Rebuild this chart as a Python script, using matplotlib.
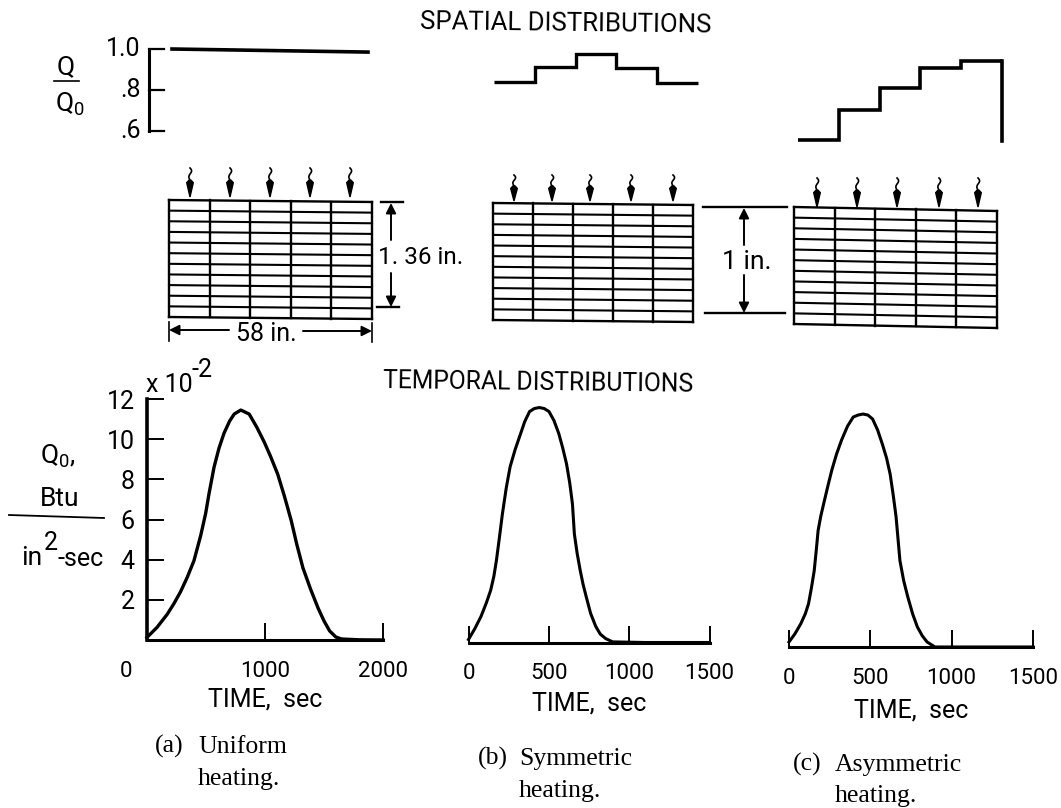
import numpy as np
import matplotlib
matplotlib.use("Agg")
import matplotlib.pyplot as plt
from matplotlib.patches import Polygon
from matplotlib.transforms import ScaledTranslation

W, H = 1061, 808
SERIF = ['Liberation Serif', 'DejaVu Serif']
plt.rcParams['font.family'] = ['Roboto', 'DejaVu Sans']
plt.rcParams['mathtext.default'] = 'regular'

# spatial distributions, Q/Q0 per column
q_ticks = [0.6, 0.8, 1.0]
q_tick_labels = ['.6', '.8', '1.0']
q_uniform = [1.0, 0.985]
q_symmetric = [0.84, 0.912, 0.976, 0.907, 0.834]
q_asymmetric = [0.556, 0.702, 0.81, 0.907, 0.941]
q_asym_end = 0.55

# temporal distributions, Q0 (x 10^-2) against time in sec
time_a = [0, 85, 170, 227, 284, 341, 398, 455, 497, 526, 568, 610, 653, 700, 739, 795,
          866, 930, 994, 1050, 1108, 1165, 1222, 1270, 1321, 1385, 1449, 1500, 1548, 1600, 1648, 1800, 2000]
heat_a = [0.13, 0.63, 1.27, 1.8, 2.4, 3.12, 3.95, 5.2, 6.3, 7.3, 8.6, 9.55, 10.3, 10.9, 11.25, 11.45,
          11.25, 10.6, 9.85, 9.1, 8.25, 7.15, 5.95, 4.75, 3.6, 2.55, 1.6, 0.95, 0.45, 0.15, 0.05, 0.01, 0]
time_b = [0, 40, 78, 110, 138, 158, 174, 192, 211, 235, 259, 290, 320, 350, 380, 410, 441, 471, 501,
          532, 562, 586, 610, 630, 647, 659, 676, 695, 713, 732, 760, 792, 820, 853, 897, 1100, 1500]
heat_b = [0.15, 0.7, 1.3, 1.95, 2.6, 3.3, 4.1, 5.2, 6.4, 7.7, 8.75, 9.6, 10.3, 11.0, 11.5, 11.65, 11.7, 11.65, 11.5,
          11.05, 10.4, 9.7, 8.9, 7.95, 6.9, 5.4, 4.45, 3.6, 2.9, 2.3, 1.45, 0.8, 0.42, 0.2, 0.03, 0, 0]
time_c = [0, 36, 72, 100, 120, 138, 155, 168, 179, 195, 215, 240, 263, 292, 323, 360, 395, 425, 455, 485, 514,
          545, 574, 600, 622, 640, 658, 670, 682, 705, 730, 760, 789, 820, 849, 897, 1100, 1500]
heat_c = [0.25, 0.65, 1.15, 1.65, 2.15, 2.95, 3.8, 4.85, 5.8, 6.5, 7.2, 8.05, 8.8, 9.6, 10.3, 11.0, 11.45, 11.55, 11.6, 11.55, 11.35,
          10.8, 10.1, 9.4, 8.6, 7.6, 6.5, 5.4, 4.3, 3.3, 2.5, 1.65, 1.0, 0.55, 0.25, 0, 0, 0]

y_ticks = [2, 4, 6, 8, 10, 12]
x_ticks_a = [1000, 2000]
x_labels_a = ['0', '1000', '2000']
x_ticks_bc = [0, 500, 1000, 1500]
x_labels_bc = ['0', '500', '1000', '1500']


def px_axes(fig, x0, x1, top, bottom):
    ax = fig.add_axes([x0 / W, 1 - bottom / H, (x1 - x0) / W, (bottom - top) / H])
    ax.patch.set_alpha(0)
    return ax


def wiggle_arrow(ax, x, y0, y1):
    # little wavy tail and long solid head, like a heat flux arrow
    head = y0 + (y1 - y0) * 0.42
    t = np.linspace(0, 1, 20)
    ax.plot(x + 1.8 * np.sin(t * 2 * np.pi) * (1 - 0.5 * t), y0 + (head - y0) * t, color='k', lw=1.2)
    ax.add_patch(Polygon([(x - 1, head), (x + 1, head), (x + 3.3, head + 2.5), (x, y1), (x - 3.3, head + 2.5)],
                         closed=True, color='k'))


def layer_grid(ax, left, right, top_l, top_r, bot_l, bot_r, n_col=5, n_lay=11):
    for i in range(n_col + 1):
        f = i / n_col
        x = left + (right - left) * f
        y0 = top_l + (top_r - top_l) * f
        y1 = bot_l + (bot_r - bot_l) * f
        ax.plot([x, x], [y0, y1], color='k', lw=1.7, solid_capstyle='projecting')
    for j in range(n_lay + 1):
        f = j / n_lay
        ya = top_l + (bot_l - top_l) * f
        yb = top_r + (bot_r - top_r) * f
        ax.plot([left, right], [ya, yb], color='k', lw=1.7 if j in (0, n_lay) else 1.5)


def dim_arrow(ax, x0, y0, x1, y1):
    ax.annotate('', xy=(x1, y1), xytext=(x0, y0),
                arrowprops=dict(arrowstyle='-|>', color='k', lw=1.4, mutation_scale=15, shrinkA=0, shrinkB=0))


def spatial_axes(fig, x0, x1, xlim):
    ax = px_axes(fig, x0, x1, 49, 131)
    ax.set_xlim(*xlim)
    ax.set_ylim(0.6, 1.0)
    ax.axis('off')
    return ax


def temporal_axes(fig, x0, x1, bottom, xmax, xticks):
    ax = px_axes(fig, x0, x1, bottom - 241, bottom)
    ax.set_xlim(0, xmax)
    ax.set_ylim(0, 12)
    ax.spines['top'].set_visible(False)
    ax.spines['right'].set_visible(False)
    ax.spines['bottom'].set_linewidth(2.2)
    ax.set_xticks(xticks)
    ax.tick_params(axis='x', direction='in', length=12, width=1.4, labelsize=16, pad=15)
    return ax


fig = plt.figure(figsize=(W / 100, H / 100), dpi=100, facecolor='white')
page = fig.add_axes([0, 0, 1, 1])
page.set_xlim(0, W)
page.set_ylim(H, 0)
page.axis('off')

# titles
page.text(566, 24, 'SPATIAL DISTRIBUTIONS', fontsize=18.5, ha='center', va='center',
          rotation=-0.7, rotation_mode='anchor')
page.text(538, 383, 'TEMPORAL DISTRIBUTIONS', fontsize=17.8, ha='center', va='center',
          rotation=-0.7, rotation_mode='anchor')

# spatial curves
ax_sa = spatial_axes(fig, 149, 368, (-0.587, 5))
ax_sa.plot([0, 5], q_uniform, color='k', lw=2.6, clip_on=False)
ax_sa.plot([-0.587, -0.587], [0.6, 1.0], color='k', lw=2.2, clip_on=False, solid_capstyle='projecting')
for v, lab in zip(q_ticks, q_tick_labels):
    ax_sa.plot([-0.587, -0.2], [v, v], color='k', lw=1.6, clip_on=False)
    ax_sa.annotate(lab, xy=(-0.587, v), xytext=(-6, 0), textcoords='offset points',
                   fontsize=18, ha='right', va='center')

col_edges = np.arange(6)
ax_sb = spatial_axes(fig, 494, 698, (0, 5))
ax_sb.stairs(q_symmetric, col_edges, color='k', lw=2.4, baseline=None, clip_on=False)

ax_sc = spatial_axes(fig, 798, 1002, (0, 5))
ax_sc.stairs(q_asymmetric, col_edges, color='k', lw=2.6, baseline=None, clip_on=False)
ax_sc.plot([5, 5], [q_asymmetric[-1], q_asym_end], color='k', lw=2.6, clip_on=False)

# Q/Q0 label
page.text(66, 67, 'Q', fontsize=19, ha='center', va='center')
page.plot([54, 79], [81, 81], color='k', lw=1.2)
page.text(70, 104, 'Q$_{0}$', fontsize=19, ha='center', va='center')

# layered panels with arrows
layer_grid(page, 169, 372, 200, 202, 317, 319)
layer_grid(page, 493, 693, 203, 205, 320, 322)
layer_grid(page, 794, 997, 207, 211, 324, 328)
for x in [190, 230, 270, 310, 350]:
    wiggle_arrow(page, x, 168, 197)
for x in [514, 552, 590, 631, 673]:
    wiggle_arrow(page, x, 175, 201)
for x in [817, 857, 897, 939, 978]:
    wiggle_arrow(page, x, 178, 207)

# dimension marks
page.plot([381, 403], [202, 202], color='k', lw=1.7)
page.plot([377, 399], [307, 307], color='k', lw=1.7)
dim_arrow(page, 391, 240, 391, 203)
dim_arrow(page, 391, 273, 391, 307)
page.text(378, 257, '1. 36 in.', fontsize=17.5, ha='left', va='center')

page.plot([168.5, 168.5], [322, 341], color='k', lw=1.2)
page.plot([372, 372], [323, 342], color='k', lw=1.2)
dim_arrow(page, 229, 330, 169, 330)
dim_arrow(page, 303, 331, 372, 331)
page.text(266, 334, '58 in.', fontsize=18, ha='center', va='center')

page.plot([703, 787], [207, 207], color='k', lw=1.7)
page.plot([705, 785], [313, 313], color='k', lw=1.7)
dim_arrow(page, 744, 245, 744, 208)
dim_arrow(page, 744, 275, 744, 313)
page.text(747, 262, '1 in.', fontsize=19, ha='center', va='center')

# temporal curves
ax_a = temporal_axes(fig, 147, 383, 640, 2000, x_ticks_a)
ax_a.spines['left'].set_linewidth(2.6)
ax_a.set_xticks([0] + x_ticks_a, x_labels_a)
ax_a.set_yticks(y_ticks)
ax_a.tick_params(axis='y', direction='in', length=12, width=1.4, labelsize=18, pad=9)
ax_a.plot(time_a, heat_a, color='k', lw=2.4, clip_on=False)
shift = ScaledTranslation(-21 / 100, 0, fig.dpi_scale_trans)
first = ax_a.get_xticklabels()[0]
first.set_transform(first.get_transform() + shift)
ax_a.xaxis.get_major_ticks()[0].tick1line.set_visible(False)
page.text(146, 392, 'x 10', fontsize=18, ha='left', va='baseline')
page.text(192, 377, '-2', fontsize=18, ha='left', va='baseline')

ax_b = temporal_axes(fig, 468.5, 709.5, 642.5, 1500, x_ticks_bc)
ax_c = temporal_axes(fig, 789, 1033, 647, 1500, x_ticks_bc)
for ax, t, q in [(ax_b, time_b, heat_b), (ax_c, time_c, heat_c)]:
    ax.spines['left'].set_visible(False)
    ax.set_xticks(x_ticks_bc, x_labels_bc)
    ax.set_yticks([])
    ax.plot(t, q, color='k', lw=2.2, clip_on=False)

for ax, pad in [(ax_a, 4), (ax_b, 5), (ax_c, 7)]:
    ax.set_xlabel('TIME,  sec', fontsize=18, labelpad=pad)

# Q0 units label
page.text(58, 456, 'Q$_{0}$,', fontsize=19, ha='center', va='center')
page.text(60, 499, 'Btu', fontsize=19, ha='center', va='center')
page.plot([9, 104], [515, 518], color='k', lw=1.3)
page.text(21, 565, 'in', fontsize=19, ha='left', va='baseline')
page.text(44, 550, '2', fontsize=18, ha='left', va='baseline')
page.text(57, 566, '-sec', fontsize=18, ha='left', va='baseline')

# captions
page.text(155, 753, '(a)', fontsize=18.5, family=SERIF, ha='left', va='baseline')
page.text(198, 753, 'Uniform', fontsize=18.5, family=SERIF, ha='left', va='baseline')
page.text(198, 785, 'heating.', fontsize=18.5, family=SERIF, ha='left', va='baseline')
page.text(478, 765, '(b)', fontsize=18.5, family=SERIF, ha='left', va='baseline')
page.text(519, 765, 'Symmetric', fontsize=18.5, family=SERIF, ha='left', va='baseline')
page.text(519, 797, 'heating.', fontsize=18.5, family=SERIF, ha='left', va='baseline')
page.text(793, 771, '(c)', fontsize=18.5, family=SERIF, ha='left', va='baseline')
page.text(835, 771, 'Asymmetric', fontsize=18.5, family=SERIF, ha='left', va='baseline')
page.text(835, 802, 'heating.', fontsize=18.5, family=SERIF, ha='left', va='baseline')

fig.savefig('out.png', dpi=100)
